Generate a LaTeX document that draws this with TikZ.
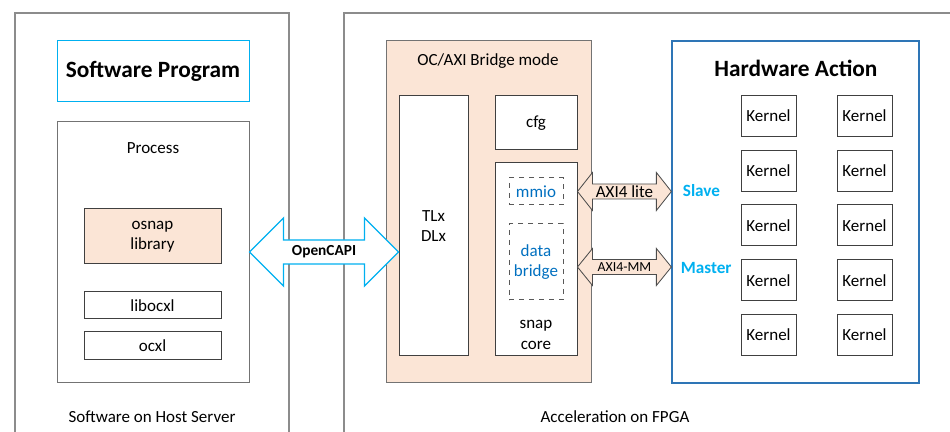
\documentclass[tikz,border=0pt]{standalone}
\usepackage{fontspec}
\setmainfont{Carlito}
\usetikzlibrary{calc,fit}

\definecolor{peach}{HTML}{FBE5D6}
\definecolor{capcyan}{HTML}{00B0F0}
\definecolor{actblue}{HTML}{2E75B6}
\definecolor{linkblue}{HTML}{0070C0}

% block arrow with two heads: style, left tip, right tip, half shaft, half head, head length
\newcommand\blockarrow[6]{%
  \draw[#1] (#2) -- ($(#2)+(#6,-#5)$) -- ($(#2)+(#6,-#4)$) -- ($(#3)+(-#6,-#4)$)
    -- ($(#3)+(-#6,-#5)$) -- (#3) -- ($(#3)+(-#6,#5)$) -- ($(#3)+(-#6,#4)$)
    -- ($(#2)+(#6,#4)$) -- ($(#2)+(#6,#5)$) -- cycle;}

\begin{document}
\begin{tikzpicture}[x=0.6pt,y=-0.6pt,
  font=\fontsize{10.2}{12.2}\selectfont,
  frame/.style={draw=black!45, line width=0.9pt},
  box/.style={draw=black!75, line width=0.6pt, inner sep=0pt},
  inside/.style={label={[align=center]center:#1}},
  dashbox/.style={draw=black!65, line width=0.6pt, dashed, inner sep=0pt},
  bluetext/.style={label={[align=center, text=linkblue]center:#1}},
  title/.style={font=\fontsize{14}{16}\selectfont\bfseries},
  axiarrow/.style={draw=black!70, fill=peach, line width=0.5pt},
  capiarrow/.style={draw=capcyan, fill=white, line width=0.8pt},
  portlabel/.style={anchor=west, text=capcyan, font=\fontsize{10.3}{12}\selectfont\bfseries}]

  \useasboundingbox (0,0) rectangle (950,432);

  % outer frames, cut by the page edge
  \draw[frame] (15,440) |- (289,13) -- (289,440);
  \draw[frame] (344,440) |- (960,13);
  \node (hostlbl) at (152,417) {Software on Host Server};
  \node (fpgalbl) at (615,417) {Acceleration on FPGA};

  % host side
  \node[box, draw=capcyan, fit={(57,41) (249,102)}] (swprog) {};
  \node[title] (swproglbl) at (swprog.center) {Software Program};
  \node[box, draw=black!55, fit={(57,122) (249,383)}] (process) {};
  \node (proclbl) at (153,148) {Process};
  \node[box, fill=peach, fit={(84,209) (221,264)}, inside={osnap\\library}] (osnap) {};
  \node[box, fit={(84,292) (221,319)}, inside=libocxl] (libocxl) {};
  \node[box, fit={(84,332) (221,360)}, inside=ocxl] (ocxl) {};

  % bridge
  \node[box, draw=black!55, fill=peach, fit={(386,41) (591,383)}] (bridge) {};
  \node (bridgelbl) at (488,61) {OC/AXI Bridge mode};
  \node[box, fill=white, fit={(399,96) (468,356)}, inside={TLx\\DLx}] (tlx) {};
  \node[box, fill=white, fit={(495,96) (577,150)}, inside=cfg] (cfg) {};
  \node[box, fill=white, fit={(495,163) (577,356)}] (snapcore) {};
  \node[dashbox, fit={(509,178) (563,205)}, bluetext=mmio] (mmio) {};
  \node[dashbox, fit={(509,224) (563,300)}, bluetext={data\\bridge}] (databridge) {};
  \node[align=center] (snaplbl) at (536,335) {snap\\core};

  % hardware action
  \node[box, draw=actblue, line width=0.75pt, fit={(672,41) (919,383)}] (action) {};
  \node[title] (actionlbl) at (796,68) {Hardware Action};
  \foreach \r in {1,...,5} {
    \foreach \c in {1,2} {
      \pgfmathsetmacro\kx{768.5+96*(\c-1)}
      \pgfmathsetmacro\ky{116+54.75*(\r-1)}
      \node[box, fit={({\kx-27.5},{\ky-20.5}) ({\kx+27.5},{\ky+20.5})}, inside=Kernel] (k\r\c) {};
    }
  }
  \node[portlabel] (slave) at (677,191) {Slave};
  \node[portlabel] (master) at (675,268) {Master};

  % links
  \coordinate (capiL) at (process.east |- 0,252);
  \coordinate (capiR) at (tlx.west |- 0,252);
  \blockarrow{draw=none, fill=capcyan!35, shift={(2.5,2.5)}}{capiL}{capiR}{12}{34}{34}
  \blockarrow{capiarrow}{capiL}{capiR}{12}{34}{34}
  \node[font=\fontsize{9.2}{11}\selectfont\bfseries] (capilbl) at ($(capiL)!0.5!(capiR)$) {OpenCAPI};

  \coordinate (liteL) at (snapcore.east |- mmio.center);
  \coordinate (liteR) at (action.west |- mmio.center);
  \blockarrow{axiarrow}{liteL}{liteR}{7.5}{19}{15}
  \node (litelbl) at ($(liteL)!0.5!(liteR)$) {AXI4 lite};

  \coordinate (mmL) at (snapcore.east |- 0,267);
  \coordinate (mmR) at (action.west |- 0,267);
  \blockarrow{axiarrow}{mmL}{mmR}{7.5}{18.5}{15}
  \node[font=\fontsize{8.3}{10}\selectfont] (mmlbl) at ($(mmL)!0.5!(mmR)$) {AXI4-MM};

\end{tikzpicture}
\end{document}
